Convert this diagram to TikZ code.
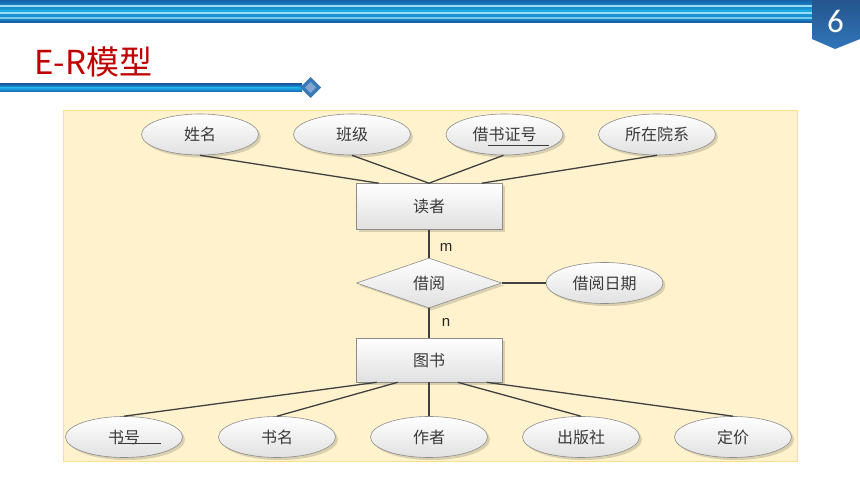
\documentclass[tikz,border=0pt]{standalone}
\usepackage{fontspec}
\newfontfamily\cjk{Noto Sans CJK SC}
\newfontfamily\lat{Liberation Sans}
\newfontfamily\numf{Carlito}
\usetikzlibrary{shapes.geometric,shadows,calc}
\definecolor{panelfill}{HTML}{FFF2CC}
\definecolor{paneldraw}{HTML}{FFE08A}
\definecolor{shapeline}{HTML}{8C8C8C}
\definecolor{shadowc}{HTML}{D9CFAE}
\definecolor{linkc}{HTML}{404040}
\definecolor{txtc}{HTML}{3A3A3A}
\definecolor{titlered}{HTML}{C00000}
\definecolor{badgetop}{HTML}{24558C}
\definecolor{badgebot}{HTML}{3176BA}
\definecolor{stripedark}{HTML}{1761A8}
\definecolor{stripemid}{HTML}{1DA6E1}
\definecolor{stripelight}{HTML}{9ADCF7}
\tikzset{
  shapebase/.style={draw=shapeline, line width=0.6pt, top color=white, bottom color=black!12,
    drop shadow={shadow xshift=2.5pt, shadow yshift=-2.5pt, fill=shadowc, opacity=1},
    inner sep=0pt, font=\cjk\fontsize{16pt}{16pt}\selectfont, text=txtc},
  attr/.style={shapebase, ellipse, minimum width=117pt, minimum height=41pt},
  entity/.style={shapebase, rectangle, minimum width=146pt, minimum height=46pt},
  rel/.style={shapebase, diamond, minimum width=145pt, minimum height=50pt},
  link/.style={draw=linkc, line width=1.3pt},
  card/.style={font=\lat\fontsize{15pt}{15pt}\selectfont, text=black!85, inner sep=0pt}
}
\begin{document}
\begin{tikzpicture}[x=1pt,y=-1pt]
\useasboundingbox (0,0) rectangle (860,484);
\fill[white] (0,0) rectangle (860,484);
% header stripes
\shade[top color=stripedark, bottom color=stripemid] (0,0) rectangle (860,11);
\shade[top color=stripemid, bottom color=stripedark!80!stripemid] (0,11) rectangle (860,22.5);
\fill[stripelight] (0,5.5) rectangle (860,7);
\fill[stripelight] (0,12.5) rectangle (860,14);
\fill[stripelight!70!stripemid] (0,17.5) rectangle (860,18.7);
\fill[stripedark] (0,21.5) rectangle (860,22.8);
% badge
\shade[top color=badgetop, bottom color=badgebot] (812,0) -- (860,0) -- (860,39) -- (835,49) -- (812,39) -- cycle;
\node[font=\numf\fontsize{33pt}{33pt}\selectfont, text=white, inner sep=0pt] (badge) at (835.5,21) {6};
% title
\node[anchor=base west, inner sep=0pt, font=\cjk\fontsize{33pt}{33pt}\selectfont, text=titlered] (title) at (34,75) {E-R模型};
\shade[top color=stripedark, bottom color=stripemid] (0,84) rectangle (302,88);
\shade[top color=stripemid, bottom color=stripedark] (0,88) rectangle (302,92);
\fill[stripedark!85!white] (310.5,77) -- (321,87.5) -- (310.5,98) -- (300,87.5) -- cycle;
\fill[stripedark!55!white] (310.5,82) -- (316,87.5) -- (310.5,93) -- (305,87.5) -- cycle;
% panel
\filldraw[fill=panelfill, draw=paneldraw, line width=0.8pt] (63,110) rectangle (797,461.5);
% nodes
\node[attr] (xm) at (200,134.5) {姓名};
\node[attr] (bj) at (352,134.5) {班级};
\node[attr] (jszh) at (504.5,134.5) {借书证号};
\node[attr] (szyx) at (657,134.5) {所在院系};
\node[entity] (dz) at (429,206.5) {读者};
\node[rel] (jy) at (429,283) {借阅};
\node[attr] (jyrq) at (604.5,283) {借阅日期};
\node[entity, minimum height=44pt] (ts) at (429,360) {图书};
\node[attr] (sh) at (124,437) {书号};
\node[attr] (sm) at (277,437) {书名};
\node[attr] (zz) at (429,437) {作者};
\node[attr] (cbs) at (581,437) {出版社};
\node[attr] (dj) at (733,437) {定价};
% key underlines
\coordinate (u1a) at (488,145.5); \coordinate (u1b) at (549,145.5);
\draw[draw=txtc, line width=0.8pt] (u1a) -- (u1b);
\coordinate (u2a) at (118,443.5); \coordinate (u2b) at (161,443.5);
\draw[draw=txtc, line width=0.8pt] (u2a) -- (u2b);
% links
\draw[link] (xm.south) -- ($(dz.north west)+(23,0)$);
\draw[link] (bj.south) -- (dz.north);
\draw[link] ($(jszh.south)+(-1,0)$) -- (dz.north);
\draw[link] (szyx.south) -- ($(dz.north west)+(126,0)$);
\draw[link] (dz.south) -- (jy.north);
\draw[link] (jy.south) -- (ts.north);
\draw[link] (jy.east) -- (jyrq.west);
\draw[link] ($(ts.south west)+(21,0)$) -- (sh.north);
\draw[link] ($(ts.south west)+(42,0)$) -- (sm.north);
\draw[link] (ts.south) -- (zz.north);
\draw[link] ($(ts.south west)+(102,0)$) -- (cbs.north);
\draw[link] ($(ts.south west)+(131,0)$) -- (dj.north);
\node[card] (m) at (446,247) {m};
\node[card] (n) at (446,322) {n};
\end{tikzpicture}
\end{document}
